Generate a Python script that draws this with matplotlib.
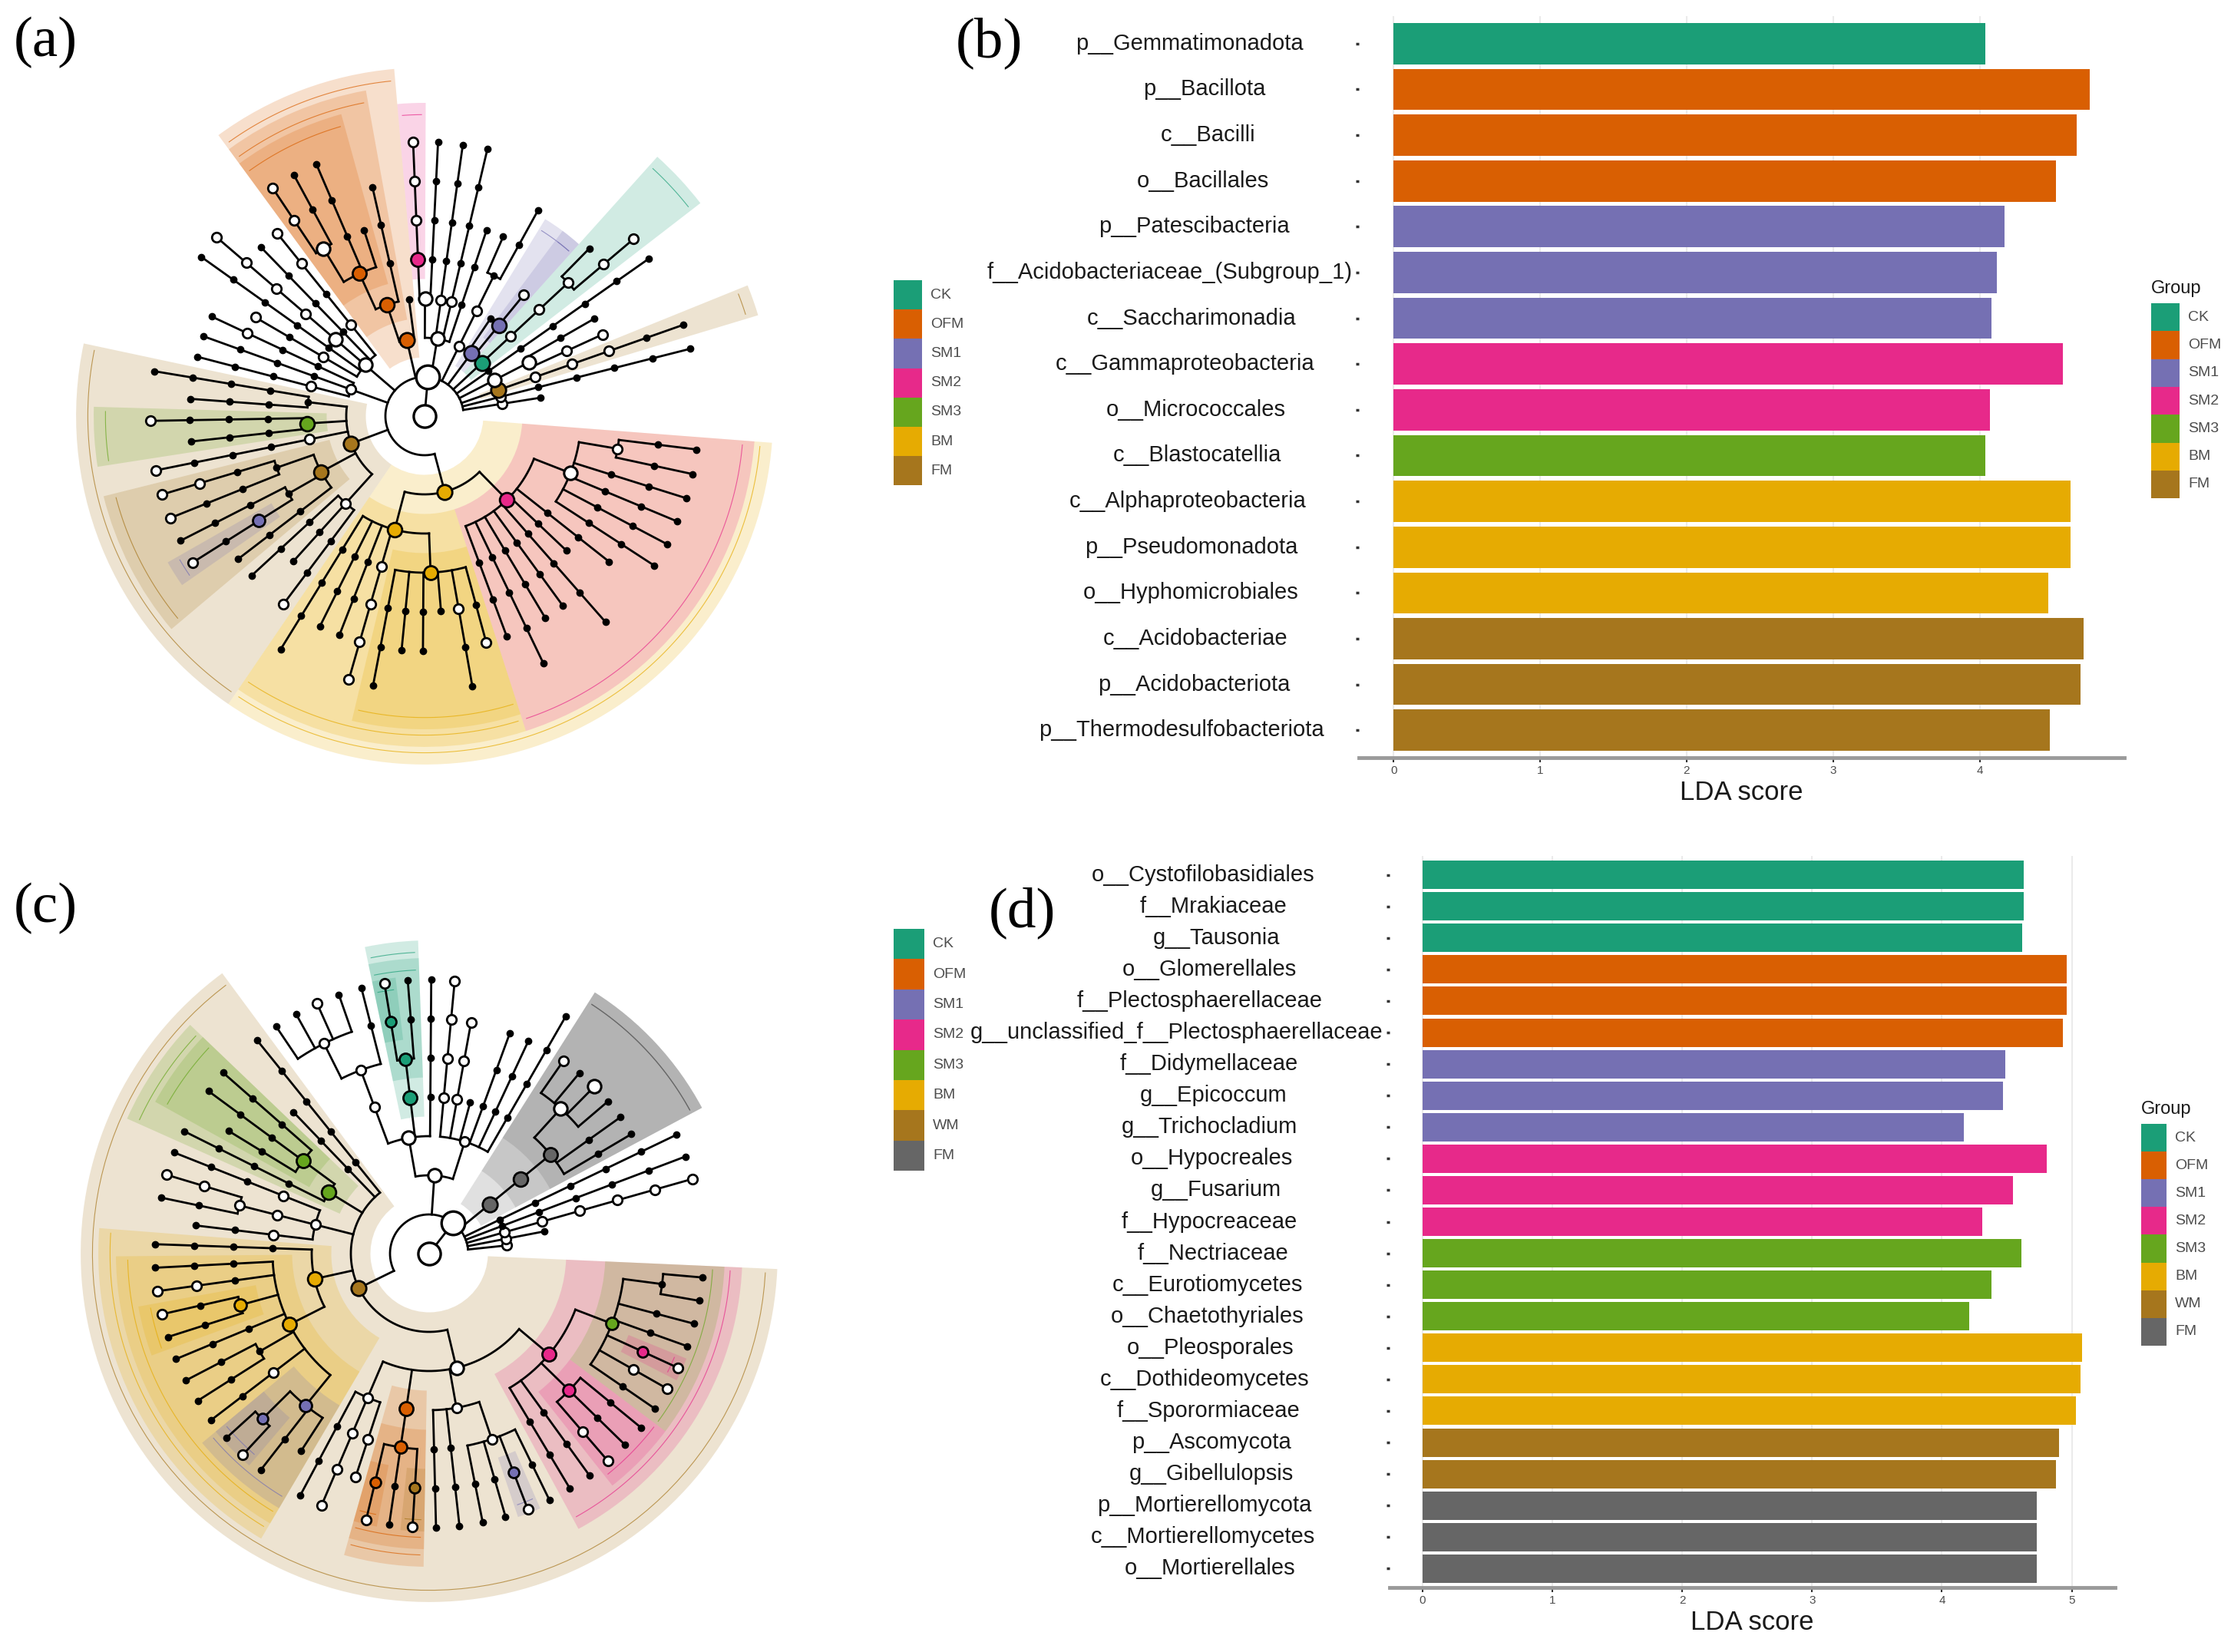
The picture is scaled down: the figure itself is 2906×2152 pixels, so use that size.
"""
LEfSe figure: two cladograms (a, c) and two LDA bar charts (b, d).
"""
import numpy as np
import matplotlib
matplotlib.use("Agg")
import matplotlib.pyplot as plt
from matplotlib.patches import Wedge, Rectangle

plt.rcParams["font.family"] = ["Liberation Sans", "DejaVu Sans"]

FIG_W, FIG_H = 2906, 2152

# group colours (bacteria / fungi)
groups_b = ["CK", "OFM", "SM1", "SM2", "SM3", "BM", "FM"]
colors_b = ["#1B9E77", "#D95F02", "#7570B3", "#E7298A", "#66A61E", "#E6AB02", "#A6761D"]
groups_d = ["CK", "OFM", "SM1", "SM2", "SM3", "BM", "WM", "FM"]
colors_d = ["#1B9E77", "#D95F02", "#7570B3", "#E7298A", "#66A61E", "#E6AB02", "#A6761D", "#666666"]

# (b) bacteria LDA
taxa_b = ["p__Gemmatimonadota", "p__Bacillota", "c__Bacilli", "o__Bacillales",
          "p__Patescibacteria", "f__Acidobacteriaceae_(Subgroup_1)", "c__Saccharimonadia",
          "c__Gammaproteobacteria", "o__Micrococcales", "c__Blastocatellia",
          "c__Alphaproteobacteria", "p__Pseudomonadota", "o__Hyphomicrobiales",
          "c__Acidobacteriae", "p__Acidobacteriota", "p__Thermodesulfobacteriota"]
lda_b = [4.04, 4.75, 4.66, 4.52, 4.17, 4.12, 4.08, 4.57, 4.07, 4.04,
         4.62, 4.62, 4.47, 4.71, 4.69, 4.48]
group_b = ["CK", "OFM", "OFM", "OFM", "SM1", "SM1", "SM1", "SM2", "SM2", "SM3",
           "BM", "BM", "BM", "FM", "FM", "FM"]

# (d) fungi LDA
taxa_d = ["o__Cystofilobasidiales", "f__Mrakiaceae", "g__Tausonia", "o__Glomerellales",
          "f__Plectosphaerellaceae", "g__unclassified_f__Plectosphaerellaceae",
          "f__Didymellaceae", "g__Epicoccum", "g__Trichocladium", "o__Hypocreales",
          "g__Fusarium", "f__Hypocreaceae", "f__Nectriaceae", "c__Eurotiomycetes",
          "o__Chaetothyriales", "o__Pleosporales", "c__Dothideomycetes", "f__Sporormiaceae",
          "p__Ascomycota", "g__Gibellulopsis", "p__Mortierellomycota",
          "c__Mortierellomycetes", "o__Mortierellales"]
lda_d = [4.63, 4.63, 4.62, 4.96, 4.96, 4.93, 4.49, 4.47, 4.17, 4.81, 4.55, 4.31,
         4.61, 4.38, 4.21, 5.08, 5.07, 5.03, 4.90, 4.88, 4.73, 4.73, 4.73]
group_d = ["CK"] * 3 + ["OFM"] * 3 + ["SM1"] * 3 + ["SM2"] * 3 + ["SM3"] * 3 + \
          ["BM"] * 3 + ["WM"] * 2 + ["FM"] * 3

# cladogram topology, one newick-ish string per phylum, counter-clockwise
# node labels: "" small node, "w" open node, "W" big open node, group = biomarker
phyla_a = [
    "()w",
    "((((()))))w",
    "((((())w)w)w)FM",
    "(((w)w,())W)W",
    "((((()))))",
    "(((((w)w,)w)w)w)CK",
    "((w)SM1,)SM1",
    "((((),))w)w",
    "((()),(((())))w,(((())))w,(((())),(((w)w)w)SM2)W)W",
    "(,((()),(,(()),((),(w)w)W)OFM)OFM)OFM",
    "((((w)w))w,((())),((((w)w)w)w)W,(((()))),((w))w)W",
    "(((()w)),((())),((()))w)w",
    "((((())),(())),((((w))),(()))SM3,((((w))))w,((((w)w),((w))),((()),((w))SM1),(()))FM,"
    "((()),(),((w)))w)FM",
    "((((())),(()),(()),(((w)w)w)w,((()),(),(),,(())w,(w))BM)BM,"
    "((()),((())),(()),(()),((())),(),(()),((()),(()),(()),(()),((),())w)W)SM2)BM",
]
phyla_c = [
    "w",
    "()w",
    "(((((w)w)w)w)w)w",
    "((((()))))",
    "((((()))))",
    "((((),(),(,W,,w)W)FM)FM)FM",
    "((((())),(()),(()),,((w)w)w,(((w)w)w)w)w,(((())),(((),(w)CK)CK)CK,(((),(,w,,)w)w)w)W)W",
    "((((()))),(()),(((()),(()),())SM3,((())))SM3,(((()))w,(((w)w,())w)w,(())w)w,"
    "(((())),((()),((w)w),((w),())BM,(()),((),()),(())w,((,w)SM1,(),)SM1)BM)BM,"
    "(((()),((w)w)w,(w)w)w,(((w)OFM,(),(w)WM)OFM)OFM,((()),(()),((),(),(w)SM1,())w)w,"
    "((()),(()),((w)w,(),())SM2,((),(w)w,(w)SM2,(),(),(,))SM3)SM2)W)WM",
]
leaf_span_a = (9, 353)
leaf_span_c = (6, 355)
kingdom_angle_a = 85
kingdom_angle_c = 52


def px_axes(fig, x0, y0, x1, y1):
    """Axes from a pixel box (y measured from the top)."""
    return fig.add_axes([x0 / FIG_W, 1 - y1 / FIG_H, (x1 - x0) / FIG_W, (y1 - y0) / FIG_H])


def parse(s):
    """Parse a tiny newick string into nested dicts."""
    pos = 0

    def node():
        nonlocal pos
        kids = []
        if s[pos] == "(":
            pos += 1
            kids.append(node())
            while s[pos] == ",":
                pos += 1
                kids.append(node())
            pos += 1
        start = pos
        while pos < len(s) and s[pos] not in "(),":
            pos += 1
        return {"kids": kids, "label": s[start:pos]}

    return node()


def layout(phyla, a0, a1, k_ang):
    king = {"kids": [parse(p) for p in phyla], "label": "K"}
    nodes, leaves = [], []

    def walk(n, lvl):
        n["lvl"] = lvl
        nodes.append(n)
        if not n["kids"]:
            leaves.append(n)
        for k in n["kids"]:
            walk(k, lvl + 1)

    walk(king, 1)
    step = (a1 - a0) / (len(leaves) - 1)
    for i, lf in enumerate(leaves):
        lf["ang"] = a0 + i * step

    def place(n):
        for k in n["kids"]:
            place(k)
        if n["kids"]:
            n["ang"] = 0.5 * (n["kids"][0]["ang"] + n["kids"][-1]["ang"])
            n["lo"] = n["kids"][0]["lo"]
            n["hi"] = n["kids"][-1]["hi"]
            n["deep"] = max(k["deep"] for k in n["kids"])
        else:
            n["lo"] = n["hi"] = n["ang"]
            n["deep"] = n["lvl"]

    place(king)
    king["ang"] = k_ang
    return nodes, step


def polar(r, a):
    t = np.radians(a)
    return r * np.cos(t), r * np.sin(t)


def draw_cladogram(ax, phyla, span, k_ang, groups, colors):
    cmap = dict(zip(groups, colors))
    nodes, step = layout(phyla, span[0], span[1], k_ang)
    ax.set_xlim(-10, 10)
    ax.set_ylim(-10, 10)
    ax.set_aspect("equal")
    ax.axis("off")

    # shaded clades
    for n in nodes:
        g = n["label"]
        if g in cmap:
            lvl = n["lvl"]
            r_out = min(8.9 - 0.45 * (lvl - 2), n["deep"] + 1.9)
            r_in = lvl - 0.5
            t1, t2 = n["lo"] - step / 2, n["hi"] + step / 2
            ax.add_patch(Wedge((0, 0), r_out, t1, t2, width=r_out - r_in,
                               fc=cmap[g], alpha=0.2, ec="none", zorder=1))
            tt = np.linspace(t1 + 0.15 * step, t2 - 0.15 * step, 100)
            ax.plot(*polar(r_out - 0.3, tt), color=cmap[g], lw=0.8, alpha=0.7, zorder=1.5)

    # branches
    for n in nodes:
        if not n["kids"]:
            continue
        r = n["lvl"]
        angs = [k["ang"] for k in n["kids"]] + [n["ang"]]
        tt = np.linspace(min(angs), max(angs), 300)
        ax.plot(*polar(r, tt), color="black", lw=2.0, zorder=2)
        for k in n["kids"]:
            ax.plot(*polar(np.array([r, k["lvl"]]), k["ang"]), color="black", lw=2.0, zorder=2)
    ax.plot(*polar(np.array([0, 1]), k_ang), color="black", lw=2.0, zorder=2)

    # nodes
    col_ms = {2: 14, 3: 13.5, 4: 13, 5: 11.5, 6: 10, 7: 9}
    for n in nodes:
        x, y = polar(n["lvl"], n["ang"])
        g = n["label"]
        if g == "K":
            fc, ms, mew = "white", 22, 2.4
        elif g in cmap:
            fc, ms, mew = cmap[g], col_ms[n["lvl"]], 2.0
        elif g == "W":
            fc, ms, mew = "white", 12.5, 2.2
        elif g == "w":
            fc, ms, mew = "white", 9, 2.0
        else:
            fc, ms, mew = "black", 6, 1.0
        ax.plot(x, y, "o", ms=ms, mfc=fc, mec="black", mew=mew, zorder=3)
    ax.plot(0, 0, "o", ms=21, mfc="white", mec="black", mew=2.4, zorder=3)


def draw_bars(fig, box, taxa, lda, grp, groups, colors, label_right, hjust=0.64):
    cmap = dict(zip(groups, colors))
    ax = px_axes(fig, *box)
    n = len(taxa)
    y = np.arange(n, 0, -1)
    ax.barh(y, lda, height=0.9, color=[cmap[g] for g in grp], zorder=2)
    top = max(lda)
    ax.set_xlim(-0.05 * top, 1.05 * top)
    ax.set_ylim(0.4, n + 0.6)
    ax.set_yticks(y)
    ax.set_yticklabels([])
    ax.set_xticks(range(int(top) + 1))
    ax.tick_params(axis="x", labelsize=11, labelcolor="#4D4D4D", length=4, width=1.5,
                   color="#333333", pad=3)
    ax.tick_params(axis="y", length=3, width=2.5, color="#333333")
    ax.grid(axis="x", color="#EBEBEB", lw=1.5, zorder=0)
    for s in ["top", "right", "left"]:
        ax.spines[s].set_visible(False)
    ax.spines["bottom"].set_color("#9A9A9A")
    ax.spines["bottom"].set_linewidth(3.5)
    ax.set_xlabel("LDA score", fontsize=25, color="#1A1A1A", labelpad=4)

    # taxon labels justified like ggplot's hjust inside the label column
    renderer = fig.canvas.get_renderer()
    tr = ax.get_yaxis_transform()
    texts = [ax.text(0, yy, t, fontsize=21, color="#1A1A1A", va="center", ha="left",
                     transform=tr) for yy, t in zip(y, taxa)]
    widths = [t.get_window_extent(renderer).width for t in texts]
    wmax = max(widths)
    x0, x1 = box[0], box[2]
    for t, w in zip(texts, widths):
        left_px = label_right - wmax + hjust * (wmax - w)
        t.set_x((left_px - x0) / (x1 - x0))
    return ax


def draw_keys(ov, x, y, w, h, groups, colors, fs, title=None):
    for i, (g, c) in enumerate(zip(groups, colors)):
        ov.add_patch(Rectangle((x, y + i * h), w, h, fc=c, ec="none"))
        ov.text(x + w + 11, y + (i + 0.5) * h, g, fontsize=fs, va="center", color="#4D4D4D")
    if title:
        ov.text(x, y - 8, title, fontsize=17, va="bottom", color="#1A1A1A")


fig = plt.figure(figsize=(FIG_W / 100, FIG_H / 100), dpi=100)
ov = fig.add_axes([0, 0, 1, 1])
ov.set_xlim(0, FIG_W)
ov.set_ylim(FIG_H, 0)
ov.axis("off")

ax_a = px_axes(fig, 43, 32, 1063, 1052)
draw_cladogram(ax_a, phyla_a, leaf_span_a, kingdom_angle_a, groups_b, colors_b)
ax_c = px_axes(fig, 49, 1123, 1069, 2143)
draw_cladogram(ax_c, phyla_c, leaf_span_c, kingdom_angle_c, groups_d, colors_d)

draw_bars(fig, (1770, 21, 2767, 987), taxa_b, lda_b, group_b, groups_b, colors_b, 1762)
draw_bars(fig, (1810, 1115, 2755, 2068), taxa_d, lda_d, group_d, groups_d, colors_d, 1801)

draw_keys(ov, 1164, 365, 37, 38.2, groups_b, colors_b, 14)
draw_keys(ov, 1164, 1210, 40, 39.4, groups_d, colors_d, 14)
draw_keys(ov, 2802, 395, 37, 36.3, groups_b, colors_b, 14, "Group")
draw_keys(ov, 2789, 1464, 33, 36.1, groups_d, colors_d, 14, "Group")

for lab, x, y in [("(a)", 18, 22), ("(b)", 1245, 22), ("(c)", 18, 1150), ("(d)", 1288, 1155)]:
    ov.text(x, y, lab, fontsize=54, family="Liberation Serif", va="top", ha="left")

fig.savefig("out.png", dpi=100)
